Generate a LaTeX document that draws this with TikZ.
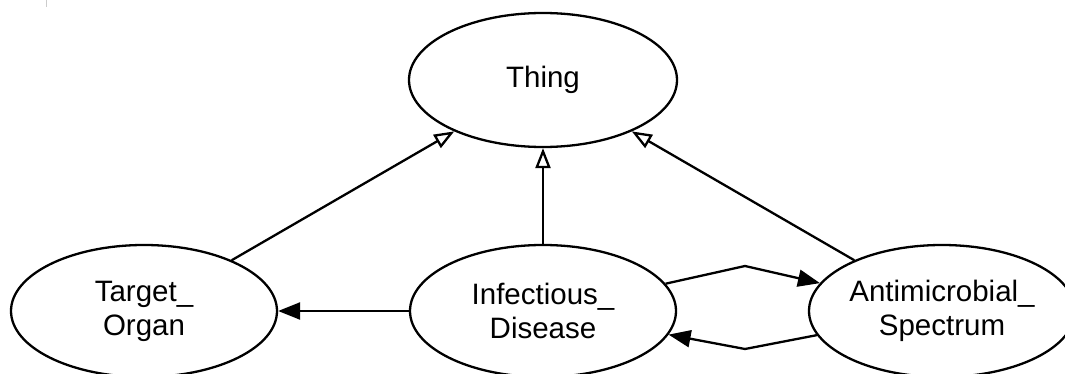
\documentclass[tikz,border=0pt]{standalone}
\usepackage{fontspec}
\setmainfont{Liberation Sans}
\usetikzlibrary{shapes.geometric,arrows.meta}
\begin{document}
\begin{tikzpicture}[x=1pt,y=-1pt,
  cls/.style={ellipse,draw,line width=2.3pt,inner sep=0pt,align=center,
    font=\fontsize{29.5}{34}\selectfont},
  isa/.style={line width=2.3pt,-{Triangle[open,length=20pt,width=15pt,line width=2.3pt]}},
  rel/.style={line width=2.3pt,line join=miter,-{Triangle[length=22pt,width=17pt]}}]
\useasboundingbox (0,0) rectangle (1065,374);
\draw[gray!40,line width=1pt] (46.5,0) -- (46.5,7);
\node[cls,minimum width=268pt,minimum height=134pt] (thing) at (543,80) {\raisebox{-2pt}{Thing}};
\node[cls,minimum width=266pt,minimum height=132pt] (to) at (144,311) {Target\_\\Organ};
\node[cls,minimum width=266pt,minimum height=132pt] (id) at (543,311) {Infectious\_\\Disease};
\node[cls,minimum width=266pt,minimum height=132pt] (am) at (942,311) {Antimicrobial\_\\Spectrum};
\coordinate (m1) at (745,266);
\coordinate (m2) at (745,349);
\draw[isa] (to) -- (thing);
\draw[isa] (id) -- (thing);
\draw[isa] (am) -- (thing);
\draw[rel] (id) -- (to);
\draw[rel] (id) -- (m1) -- (am);
\draw[rel] (am) -- (m2) -- (id);
\end{tikzpicture}
\end{document}
